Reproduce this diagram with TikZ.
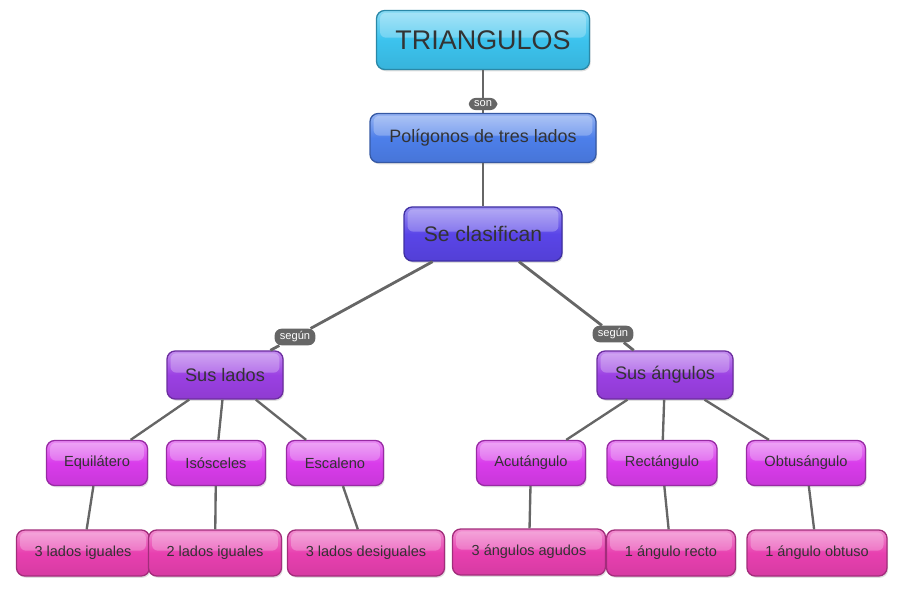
\documentclass[tikz,border=0pt]{standalone}
\usepackage{fontspec}
\setmainfont{Liberation Sans}
\usetikzlibrary{shadows}
\definecolor{tricol}{HTML}{3CC3EE}
\definecolor{policol}{HTML}{4D7FEA}
\definecolor{clascol}{HTML}{5A45E8}
\definecolor{critcol}{HTML}{9B40E3}
\definecolor{tipocol}{HTML}{D93CEB}
\definecolor{propcol}{HTML}{E840B0}
\definecolor{linecol}{HTML}{666666}
\definecolor{txtcol}{HTML}{333333}

\begin{document}
\begin{tikzpicture}[x=0.03cm,y=-0.03cm,
  box/.style={rounded corners=7pt,draw=#1!70!black,line width=1.1pt,
    top color=#1!60!white,bottom color=#1!92!black,middle color=#1,
    text=txtcol,inner sep=2pt,
    drop shadow={opacity=0.25,shadow xshift=1pt,shadow yshift=-1.5pt},
    path picture={\fill[white,opacity=0.25,rounded corners=5pt]
      ([xshift=3pt,yshift=-2pt]path picture bounding box.north west) rectangle
      ([xshift=-3pt,yshift=2pt]path picture bounding box.east);}},
  tag/.style={fill=linecol,text=white,rounded corners=6pt,inner xsep=4.5pt,
    inner ysep=2.6pt,font=\fontsize{9.5}{10}\selectfont},
  conn/.style={draw=linecol,line width=2.4pt}]
  \useasboundingbox (0,0) rectangle (900,600);

  % Title and definition
  \node[box=tricol,minimum width=6.39cm,minimum height=1.77cm,
    font=\fontsize{23}{26}\selectfont] (tri) at (483,40) {TRIANGULOS};
  \node[box=policol,minimum width=6.78cm,minimum height=1.47cm,
    font=\fontsize{15.3}{17}\selectfont] (poli) at (483,138) {Polígonos de tres lados};
  \node[box=clascol,minimum width=4.74cm,minimum height=1.62cm,
    font=\fontsize{18}{20}\selectfont] (clas) at (483,234) {Se clasifican};
  \node[tag] (son) at (483,104) {son};

  % Criteria
  \node[box=critcol,minimum width=3.48cm,minimum height=1.44cm,
    font=\fontsize{15.5}{17}\selectfont] (lados) at (225,375) {Sus lados};
  \node[box=critcol,minimum width=4.08cm,minimum height=1.44cm,
    font=\fontsize{15.5}{17}\selectfont] (angulos) at (665,375) {Sus ángulos};
  \node[tag] (segun1) at (295,337) {según};
  \node[tag] (segun2) at (613,334) {según};

  % Types
  \begin{scope}[every node/.style={box=tipocol,minimum height=1.35cm,
      font=\fontsize{12.5}{14}\selectfont}]
    \node[minimum width=3.03cm] (equi) at (97,463) {Equilátero};
    \node[minimum width=2.97cm] (isos) at (216,463) {Isósceles};
    \node[minimum width=2.91cm] (esca) at (335,463) {Escaleno};
    \node[minimum width=3.27cm] (acut) at (531,463) {Acutángulo};
    \node[minimum width=3.30cm] (rect) at (662,463) {Rectángulo};
    \node[minimum width=3.57cm] (obtu) at (806,463) {Obtusángulo};
  \end{scope}

  % Properties
  \begin{scope}[every node/.style={box=propcol,minimum height=1.38cm,
      font=\fontsize{12.4}{14}\selectfont}]
    \node[minimum width=3.99cm] (igu3) at (83,553) {3 lados iguales};
    \node[minimum width=3.99cm] (igu2) at (215,553) {2 lados iguales};
    \node[minimum width=4.71cm] (desig) at (366,553) {3 lados desiguales};
    \node[minimum width=4.59cm] (agud) at (529,552) {3 ángulos agudos};
    \node[minimum width=3.87cm] (recto) at (671,553) {1 ángulo recto};
    \node[minimum width=4.20cm] (obtuso) at (817,553) {1 ángulo obtuso};
  \end{scope}

  % Connectors
  \draw[conn] (tri) -- (son) -- (poli);
  \draw[conn] (poli) -- (clas);
  \draw[conn] (clas) -- (segun1) -- (lados);
  \draw[conn] (clas) -- (segun2) -- (angulos);
  \foreach \a/\b in {lados/equi,lados/isos,lados/esca,
      angulos/acut,angulos/rect,angulos/obtu,
      equi/igu3,isos/igu2,esca/desig,acut/agud,rect/recto,obtu/obtuso}
    \draw[conn,line width=2pt] (\a) -- (\b);
\end{tikzpicture}
\end{document}
